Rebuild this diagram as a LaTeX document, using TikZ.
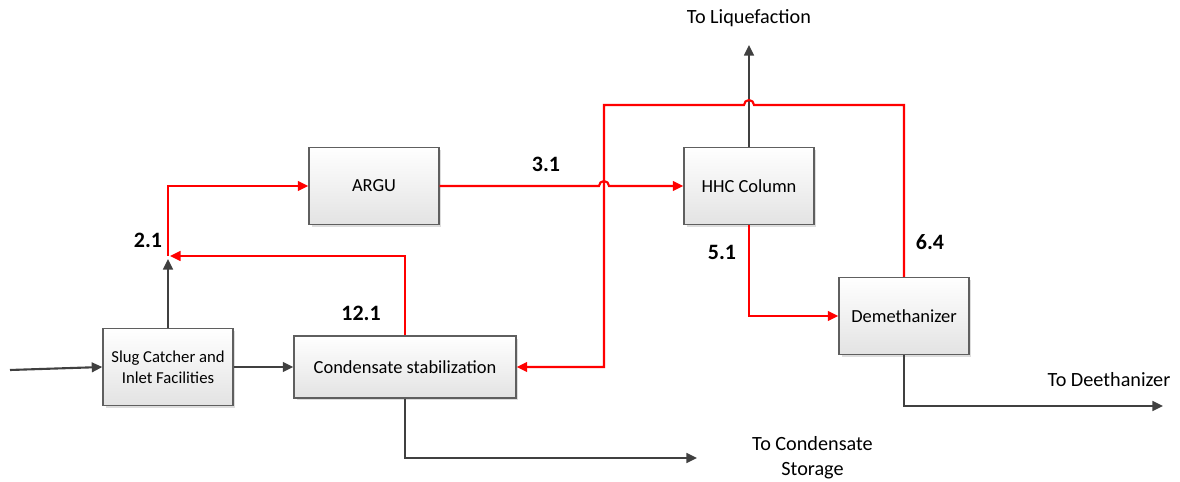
\documentclass[tikz,border=0pt]{standalone}
\usepackage{fontspec}
\setmainfont{Carlito}
\usetikzlibrary{arrows.meta,shadows}
\definecolor{linegray}{RGB}{64,64,64}
\definecolor{boxgray}{RGB}{95,95,95}
\definecolor{flowred}{RGB}{255,0,0}
\begin{document}
\begin{tikzpicture}[x=0.02cm,y=-0.02cm,
  box/.style={draw=boxgray, line width=0.8pt, top color=white, bottom color=black!11,
    drop shadow={shadow xshift=0.05cm, shadow yshift=-0.05cm, fill=black!22, opacity=0.6},
    inner sep=0pt, align=center, font=\fontsize{10.5}{13}\selectfont},
  gflow/.style={draw=linegray, line width=1.2pt, -{Triangle[length=6pt,width=5.5pt]}},
  rflow/.style={draw=flowred, line width=1.2pt, -{Triangle[length=6pt,width=5.5pt]}},
  num/.style={font=\fontsize{12.5}{14}\selectfont\bfseries, inner sep=0pt},
  outlbl/.style={font=\fontsize{11.5}{14}\selectfont, inner sep=0pt, align=center}]
\useasboundingbox (0,0) rectangle (1180,482);
% boxes
\node[box, minimum width=2.6cm, minimum height=1.54cm, font=\fontsize{9.5}{12}\selectfont] (slug) at (168,367) {Slug Catcher and\\Inlet Facilities};
\node[box, minimum width=4.44cm, minimum height=1.24cm] (cond) at (405,367) {Condensate stabilization};
\node[box, minimum width=2.6cm, minimum height=1.54cm] (argu) at (374,186) {ARGU};
\node[box, minimum width=2.6cm, minimum height=1.54cm] (hhc) at (749,186) {HHC Column};
\node[box, minimum width=2.6cm, minimum height=1.54cm] (dem) at (904,316) {Demethanizer};
% coordinates
\coordinate (intail) at (10,370);
\coordinate (j21g) at (168,259);
\coordinate (j21) at (168,256);
\coordinate (j21r) at (170,256);
\coordinate (lqtip) at (749,45);
\coordinate (deetip) at (1163,406);
\coordinate (cstip) at (697,458);
% gray connectors
\draw[gflow] (intail) -- (slug.west);
\draw[gflow] (slug.east) -- (cond.west);
\draw[gflow] (slug.north) -- (j21g);
\draw[gflow] (hhc.north) -- (lqtip);
\draw[gflow] (dem.south) |- (deetip);
\draw[gflow] (cond.south) |- (cstip);
% red connectors
\draw[rflow] (cond.north) |- (j21r);
\draw[rflow] (j21) |- (argu.west);
\draw[rflow] (argu.east) -- (599,186) arc (180:360:5) -- (hhc.west);
\draw[rflow] (dem.north) -- (904,105) -- (754,105) arc (0:-180:5) -- (604,105) -- (604,367) -- (cond.east);
\draw[rflow] (hhc.south) |- (dem.west);
% labels
\node[num] (l21) at (148,240) {2.1};
\node[num] (l31) at (546,164) {3.1};
\node[num] (l51) at (722,252) {5.1};
\node[num] (l64) at (930,242) {6.4};
\node[num] (l121) at (361,313) {12.1};
\node[outlbl] (lq) at (749,18) {To Liquefaction};
\node[outlbl] (lde) at (1109,380) {To Deethanizer};
\node[outlbl] (lcs) at (812.5,458) {To Condensate\\Storage};
\end{tikzpicture}
\end{document}
